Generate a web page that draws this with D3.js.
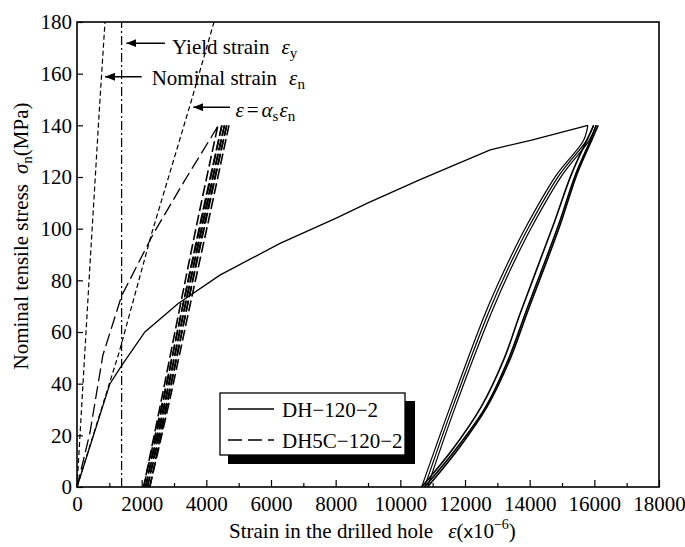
<!DOCTYPE html>
<html>
<head>
<meta charset="utf-8">
<script src="https://cdn.jsdelivr.net/npm/d3@7"></script>
<style>
  body { margin: 0; background: #fff; }
  text { font-family: "Liberation Serif", "Times New Roman", serif; fill: #000; }
</style>
</head>
<body>
<svg width="685" height="547"></svg>
<script>
// strain (x10^-6), stress (MPa)
var xTicks = [0, 2000, 4000, 6000, 8000, 10000, 12000, 14000, 16000, 18000];
var xMinor = [1000, 3000, 5000, 7000, 9000, 11000, 13000, 15000, 17000];
var yTicks = [0, 20, 40, 60, 80, 100, 120, 140, 160, 180];

var yieldStrain = 1380;
var nominalLine = [[0, 0], [190, 41], [420, 90], [711, 150], [866, 180]];
var alphaLine = [[0, 0], [1300, 52], [2306, 98], [3000, 127], [3548, 150], [4237, 180]];

// DH-120-2 : monotonic part then unload / reload branches
var dhVirgin = [[0, 0], [1020, 40], [1380, 47], [2100, 60], [3130, 71], [4420, 82], [6280, 94.3],
  [8000, 104], [9000, 110], [10610, 119], [12780, 130.5], [14060, 134.3], [15800, 140]];
var dhU1 = [[15800, 140], [15660, 134], [14840, 121], [13900, 101], [13220, 84], [12620, 67], [11540, 31], [10660, 0]];
var dhR1 = [[10660, 0], [11640, 15], [12500, 31], [13220, 50], [13700, 67], [14720, 101], [15290, 121], [15760, 134], [15980, 140]];
var dhU2 = [[15980, 140], [15750, 134], [14930, 121], [13990, 101], [13310, 84], [12710, 67], [11620, 31], [10750, 0]];
var dhR2 = [[10750, 0], [11740, 15], [12640, 31], [13360, 50], [13860, 67], [14880, 101], [15420, 121], [15870, 134], [16060, 140]];
var dhU3 = [[16060, 140], [15830, 134], [15020, 121], [14080, 101], [13400, 84], [12800, 67], [11700, 31], [10840, 0]];
var dhR3 = [[10840, 0], [11810, 15], [12680, 31], [13410, 50], [13910, 67], [14930, 101], [15460, 121], [15910, 134], [16120, 140]];

// DH5C-120-2
var dh5cVirgin = [[0, 0], [400, 21], [800, 51], [1380, 74], [2360, 98], [3300, 118], [4350, 139.5]];
var c5U1 = [[4350, 139.5], [3760, 105], [3190, 70], [2630, 35], [2060, 0]];
var c5R1 = [[2060, 0], [2680, 35], [3270, 70], [3880, 105], [4480, 140]];
var c5U2 = [[4480, 140], [3860, 105], [3270, 70], [2700, 35], [2120, 0]];
var c5R2 = [[2120, 0], [2750, 35], [3340, 70], [3950, 105], [4560, 140]];
var c5U3 = [[4560, 140], [3930, 105], [3340, 70], [2770, 35], [2180, 0]];
var c5R3 = [[2180, 0], [2820, 35], [3410, 70], [4020, 105], [4630, 140]];
var c5U4 = [[4630, 140], [4000, 105], [3410, 70], [2840, 35], [2250, 0]];
var c5R4 = [[2250, 0], [2890, 35], [3490, 70], [4100, 105], [4700, 140]];

var legendNames = ["DH\u2212120\u22122", "DH5C\u2212120\u22122"];

var svg = d3.select("svg"),
    margin = {top: 22, right: 26, bottom: 60, left: 77},
    width = +svg.attr("width") - margin.left - margin.right,
    height = +svg.attr("height") - margin.top - margin.bottom,
    g = svg.append("g")
      .attr("transform", "translate(" + margin.left + "," + margin.top + ")");

var x = d3.scaleLinear().domain([0, 18000]).range([0, width]);
var y = d3.scaleLinear().domain([0, 180]).range([height, 0]);

var line = d3.line()
    .x(function(d) { return x(d[0]); })
    .y(function(d) { return y(d[1]); });
var smooth = d3.line()
    .x(function(d) { return x(d[0]); })
    .y(function(d) { return y(d[1]); })
    .curve(d3.curveCatmullRom.alpha(0.5));

// arrow head
svg.append("defs").append("marker")
    .attr("id", "arrow")
    .attr("viewBox", "0 0 10 8")
    .attr("refX", 10).attr("refY", 4)
    .attr("markerWidth", 10).attr("markerHeight", 8)
    .attr("markerUnits", "userSpaceOnUse")
    .attr("orient", "auto")
  .append("path")
    .attr("d", "M0,0L10,4L0,8Z")
    .attr("fill", "#000");

//axis
g.append("g")
    .attr("transform", "translate(0," + height + ")")
    .call(d3.axisBottom(x).tickValues(xTicks).tickSizeInner(-7).tickSizeOuter(0).tickPadding(9).tickFormat(d3.format("d")))
    .call(function(a) { a.select(".domain").remove(); });

g.append("g")
    .attr("transform", "translate(0," + height + ")")
    .call(d3.axisBottom(x).tickValues(xMinor).tickSizeInner(-4).tickSizeOuter(0).tickFormat(""))
    .call(function(a) { a.select(".domain").remove(); });

g.append("g")
    .call(d3.axisLeft(y).tickValues(yTicks).tickSizeInner(-6).tickSizeOuter(0).tickPadding(5))
    .call(function(a) { a.select(".domain").remove(); });

g.selectAll(".tick line").attr("stroke", "#000").attr("stroke-width", 1.2);
g.selectAll(".tick text")
    .style("font-family", "'Liberation Serif', serif")
    .style("font-size", "21px")
    .attr("fill", "#000");

g.append("rect")
    .attr("width", width)
    .attr("height", height)
    .attr("fill", "none")
    .attr("stroke", "#000")
    .attr("stroke-width", 1.6);

// reference lines
g.append("line")
    .attr("x1", x(yieldStrain)).attr("x2", x(yieldStrain))
    .attr("y1", y(0)).attr("y2", y(180))
    .attr("stroke", "#000").attr("stroke-width", 1.2)
    .attr("stroke-dasharray", "9,3,2,3");

[nominalLine, alphaLine].forEach(function(d) {
  g.append("path").datum(d)
      .attr("d", line)
      .attr("fill", "none").attr("stroke", "#000").attr("stroke-width", 1.2)
      .attr("stroke-dasharray", "5,3");
});

// DH-120-2
g.append("path").datum(dhVirgin)
    .attr("d", line)
    .attr("fill", "none").attr("stroke", "#000").attr("stroke-width", 1.3);
[dhU1, dhR1, dhU2, dhR2, dhU3, dhR3].forEach(function(d, i) {
  g.append("path").datum(d)
      .attr("d", smooth)
      .attr("fill", "none").attr("stroke", "#000")
      .attr("stroke-width", i % 2 ? 1.6 : 1.2);
});

// DH5C-120-2
g.append("path").datum(dh5cVirgin)
    .attr("d", line)
    .attr("fill", "none").attr("stroke", "#000").attr("stroke-width", 1.3)
    .attr("stroke-dasharray", "13,5");
[c5U1, c5R1, c5U2, c5R2, c5U3, c5R3, c5U4, c5R4].forEach(function(d) {
  g.append("path").datum(d)
      .attr("d", smooth)
      .attr("fill", "none").attr("stroke", "#000").attr("stroke-width", 1.6)
      .attr("stroke-dasharray", "11,4");
});

// annotations
function arrow(s1, s0, st) {
  g.append("line")
      .attr("x1", x(s1)).attr("x2", x(s0))
      .attr("y1", y(st)).attr("y2", y(st))
      .attr("stroke", "#000").attr("stroke-width", 1.4)
      .attr("marker-end", "url(#arrow)");
}
arrow(2720, 1530, 171.8);
arrow(2000, 866, 158.8);
arrow(4730, 3597, 147);

var t1 = g.append("text").attr("x", x(2940)).attr("y", y(167.5)).style("font-size", "21px");
t1.append("tspan").text("Yield strain");
t1.append("tspan").attr("dx", 12).style("font-style", "italic").text("\u03b5");
t1.append("tspan").attr("dy", 4).style("font-size", "15px").text("y");

var t2 = g.append("text").attr("x", x(2310)).attr("y", y(155.5)).style("font-size", "21px");
t2.append("tspan").text("Nominal strain");
t2.append("tspan").attr("dx", 12).style("font-style", "italic").text("\u03b5");
t2.append("tspan").attr("dy", 4).style("font-size", "15px").text("n");

var t3 = g.append("text").attr("x", x(4900)).attr("y", y(143.4)).style("font-size", "21px");
t3.append("tspan").style("font-style", "italic").text("\u03b5");
t3.append("tspan").attr("dx", 3).text("=");
t3.append("tspan").attr("dx", 3).style("font-style", "italic").text("\u03b1");
t3.append("tspan").attr("dy", 4).style("font-size", "15px").text("s");
t3.append("tspan").attr("dy", -4).attr("dx", 1).style("font-style", "italic").text("\u03b5");
t3.append("tspan").attr("dy", 4).style("font-size", "15px").text("n");

// legend
var lg = svg.append("g").attr("transform", "translate(220,393)");
lg.append("rect").attr("x", 8).attr("y", 8).attr("width", 187).attr("height", 63).attr("fill", "#000");
lg.append("rect").attr("width", 185).attr("height", 62).attr("fill", "#fff").attr("stroke", "#000").attr("stroke-width", 1.3);
legendNames.forEach(function(name, i) {
  lg.append("line")
      .attr("x1", 8).attr("x2", 54)
      .attr("y1", 16 + i * 31).attr("y2", 16 + i * 31)
      .attr("stroke", "#000").attr("stroke-width", 1.4)
      .attr("stroke-dasharray", i ? "14,6" : null);
  lg.append("text")
      .attr("x", 62).attr("y", 24 + i * 31)
      .style("font-size", "21px")
      .text(name);
});

// axis titles
var xt = svg.append("text").attr("x", 229).attr("y", 538).style("font-size", "21px");
xt.append("tspan").text("Strain in the drilled hole");
xt.append("tspan").attr("dx", 15).style("font-style", "italic").text("\u03b5");
xt.append("tspan").text("(");
xt.append("tspan").style("font-family", "'Liberation Sans', sans-serif").style("font-size", "19px").text("x");
xt.append("tspan").text("10");
xt.append("tspan").attr("dy", -9).style("font-size", "14px").text("\u22126");
xt.append("tspan").attr("dy", 9).text(")");

var yt = svg.append("text")
    .attr("transform", "translate(28,236)rotate(-90)")
    .attr("text-anchor", "middle")
    .style("font-size", "21px");
yt.append("tspan").text("Nominal tensile stress");
yt.append("tspan").attr("dx", 10).style("font-style", "italic").text("\u03c3");
yt.append("tspan").attr("dy", 4).style("font-size", "15px").text("n");
yt.append("tspan").attr("dy", -4).text("(MPa)");
</script>
</body>
</html>
